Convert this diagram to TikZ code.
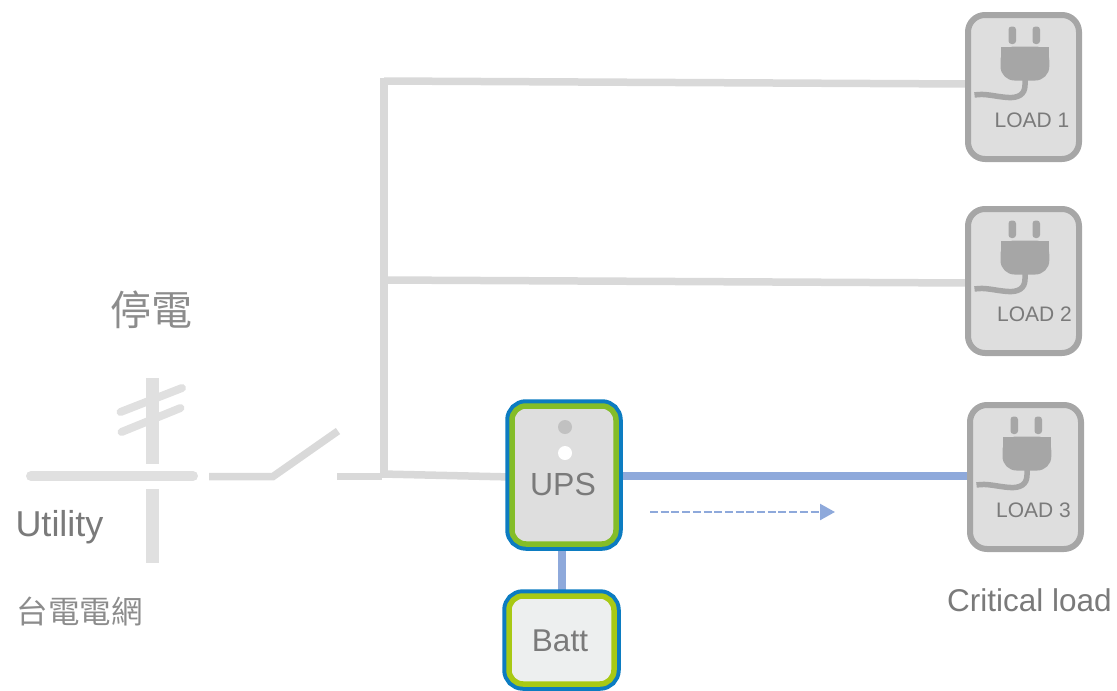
\documentclass[tikz,border=0pt]{standalone}
\usepackage{fontspec}
\setmainfont{Liberation Sans}
\newfontfamily\cjk{Noto Sans CJK TC}
\usetikzlibrary{arrows.meta,backgrounds}
\definecolor{wire}{HTML}{D9D9D9}
\definecolor{pole}{HTML}{E0E0E0}
\definecolor{bluewire}{HTML}{8EA9DB}
\definecolor{loadedge}{HTML}{A6A6A6}
\definecolor{loadfill}{HTML}{DEDEDE}
\definecolor{txt}{HTML}{7A7A7A}
\definecolor{cjktxt}{HTML}{8C8C8C}
\definecolor{edgeblue}{HTML}{0C7CC1}
\definecolor{upsgreen}{HTML}{84BD28}
\definecolor{battgreen}{HTML}{A8C914}
\definecolor{battfill}{HTML}{EDEFEF}
\newcommand{\fs}[1]{\fontsize{#1}{#1}\selectfont}
\tikzset{
  every node/.style={inner sep=0pt,outer sep=0pt},
  label text/.style={text=txt,font=\fs{#1}},
  cjk text/.style={text=cjktxt,font=\fs{#1}\cjk},
  loadbox/.style={draw=loadedge,line width=6pt,fill=loadfill,rounded corners=17pt,minimum width=111pt,minimum height=144pt},
  unitbox/.style={rounded corners=14pt,line width=5.5pt,preaction={draw=edgeblue,line width=13.5pt}},
  wireline/.style={draw=wire,line width=7.5pt},
  blueline/.style={draw=bluewire,line width=8pt},
  polebar/.style={draw=pole,line width=13pt},
  arm/.style={draw=pole,line width=8pt,line cap=round},
  dot/.style={circle,minimum size=14pt},
  plug/.pic={
    \fill[loadedge,rounded corners=3pt] (-15,-60.5) rectangle (-7.5,-43);
    \fill[loadedge,rounded corners=3pt] (9,-60.5) rectangle (16.5,-43);
    \fill[loadedge,rounded corners=14pt] (-23,-40.5) -- (25.8,-40.5) -- (25.8,-6.5) -- (-23,-6.5) -- cycle;
    \fill[loadedge] (-23,-40.5) rectangle (25.8,-25);
    \draw[loadedge,line width=5.5pt] (1.5,-8) -- (1.5,-2) .. controls (1.5,8) and (-6,11) .. (-15,10.5) .. controls (-27,10) and (-38,6) .. (-49,8);
  },
}
\begin{document}
\begin{tikzpicture}[x=1pt,y=-1pt]
\useasboundingbox (0,0) rectangle (1117,691);
% boxes
\node[loadbox] (load1) at (1023.5,87) {};
\node[loadbox] (load2) at (1023.5,281) {};
\node[loadbox] (load3) at (1025.5,477) {};
\node[unitbox,draw=upsgreen,fill=loadfill,minimum width=104pt,minimum height=138pt] (ups) at (564,475) {};
\node[unitbox,draw=battgreen,fill=battfill,minimum width=105pt,minimum height=88pt] (batt) at (561.5,640) {};
% plugs
\pic at (load1.center) {plug};
\pic at (load2.center) {plug};
\pic at (load3.center) {plug};
% texts
\node[label text=21] (l1) at (1032,120) {LOAD 1};
\node[label text=21] (l2) at (1034.5,314) {LOAD 2};
\node[label text=21] (l3) at (1033.5,510) {LOAD 3};
\node[label text=32] (upst) at (563,484) {UPS};
\node[label text=31.5] (battt) at (560,641) {Batt};
\node[label text=36] (util) at (59.5,527) {Utility};
\node[label text=31.5] (crit) at (1029.5,600) {Critical load};
\node[cjk text=41] (off) at (151,310) {停電};
\node[cjk text=31.5] (grid) at (79.5,611.5) {台電電網};
\node[dot,fill=loadedge!70] (led1) at (565,427) {};
\node[dot,fill=white] (led2) at (565,453) {};
% junctions
\coordinate (top) at (384,78);
\coordinate (j1) at (384,81);
\coordinate (j2) at (384,280);
\coordinate (j3) at (382,474);
\coordinate (bot) at (384,477);
\coordinate (swa) at (209,476.5);
\coordinate (swb) at (273,476.5);
\coordinate (swc) at (338,431);
\coordinate (swd) at (337,476.5);
\coordinate (swe) at (382,476.5);
\coordinate (bara) at (31,476);
\coordinate (barb) at (193,476);
\coordinate (pa) at (152.5,378);
\coordinate (pb) at (152.5,464);
\coordinate (pc) at (152.5,489);
\coordinate (pd) at (152.5,563);
\coordinate (a1) at (120.5,412);
\coordinate (a2) at (182,388);
\coordinate (a3) at (121.5,432);
\coordinate (a4) at (180.5,408);
\coordinate (fa) at (650,512);
\coordinate (fb) at (835,512);
\begin{scope}[on background layer]
\draw[wireline] (top) -- (bot);
\draw[wireline] (j1) -- ([yshift=3pt]load1.west);
\draw[wireline] (j2) -- ([yshift=-2pt]load2.west);
\draw[wireline] (j3) -- ([yshift=-2pt]ups.west);
\draw[blueline] ([yshift=-1pt]ups.east) -- ([yshift=1pt]load3.west);
\draw[blueline] (ups.south -| batt.north) -- (batt.north);
\draw[wireline] (swa) -- (swb) -- (swc);
\draw[wireline] (swd) -- (swe);
\draw[draw=pole,line width=10pt,line cap=round] (bara) -- (barb);
\draw[polebar] (pa) -- (pb);
\draw[polebar] (pc) -- (pd);
\draw[arm] (a1) -- (a2);
\draw[arm] (a3) -- (a4);
\draw[draw=bluewire,line width=2.4pt,dash pattern=on 8pt off 2.7pt,-{Triangle[length=15pt,width=16pt]}] (fa) -- (fb);
\end{scope}
\end{tikzpicture}
\end{document}
